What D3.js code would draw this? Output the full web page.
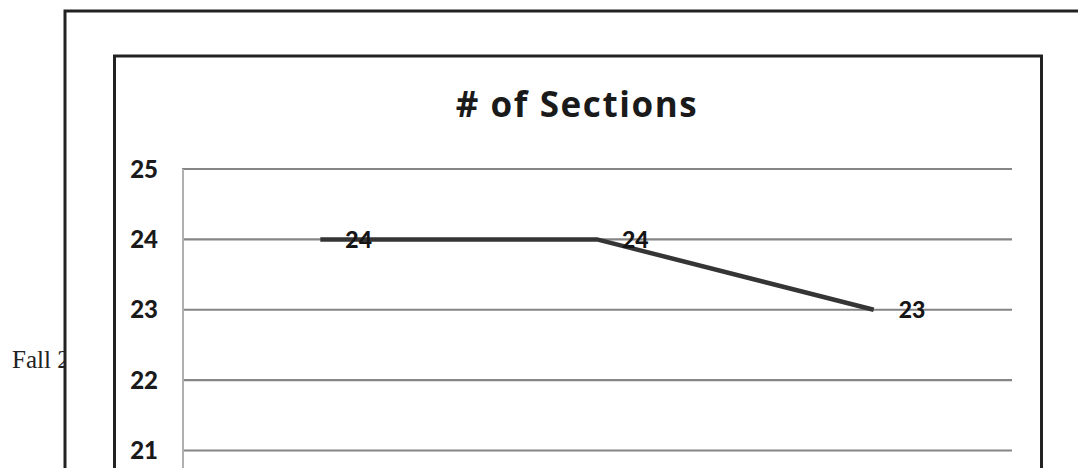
<!DOCTYPE html>
<html>
<head>
<meta charset="utf-8">
<script src="https://d3js.org/d3.v7.min.js"></script>
<style>
	body { margin:0; background:#fff; overflow:hidden; }
	svg { display:block; }
</style>
</head>
<body>
<div id="chart_wrap"></div>
<script>

var categories = ["Fall 1", "Fall 2", "Fall 3"];
var sections = [24, 24, 23];
var yTicks = [25, 24, 23, 22, 21];
var yAxisMin = 20;
var titleText = "# of Sections";
var pageText = "Fall 2";


var SEC = (function(SEC, undefined)
{
	var W = 1078, H = 468;

	SEC.init = function()
	{
		var svg = d3.select("#chart_wrap").append("svg")
		.attr("width", W)
		.attr("height", H);

		// text of the page behind the box, the box covers part of it
		svg.append("text")
		.attr("x", 12)
		.attr("y", 368)
		.attr("font-family", "'Liberation Serif', 'DejaVu Serif', serif")
		.attr("font-size", 25)
		.attr("fill", "#222")
		.text(pageText);

		// outer box
		svg.append("rect")
		.attr("x", 65)
		.attr("y", 11)
		.attr("width", 1100)
		.attr("height", 600)
		.attr("fill", "#fff")
		.attr("stroke", "#222")
		.attr("stroke-width", 3);

		// chart box
		svg.append("rect")
		.attr("x", 114.5)
		.attr("y", 56)
		.attr("width", 927)
		.attr("height", 600)
		.attr("fill", "#fff")
		.attr("stroke", "#222")
		.attr("stroke-width", 3);

		svg.append("text")
		.attr("class", "title")
		.attr("x", 577)
		.attr("y", 117)
		.attr("text-anchor", "middle")
		.attr("font-family", "'Open Sans', Lato, sans-serif")
		.attr("font-weight", "bold")
		.attr("font-size", 35)
		.attr("letter-spacing", "1.6px")
		.attr("fill", "#1a1a1a")
		.text(titleText);

		var x = d3.scalePoint()
		.domain(categories)
		.range([182, 1012])
		.padding(0.5);

		var y = d3.scaleLinear()
		.domain([21, 25])
		.range([450.5, 169]);

		// gridlines
		svg.append("g")
		.attr("class", "yGridLines")
		.selectAll("line")
		.data(yTicks)
		.join("line")
		.attr("x1", 182)
		.attr("x2", 1012)
		.attr("y1", function(d) { return y(d); })
		.attr("y2", function(d) { return y(d); })
		.attr("stroke", "#858585")
		.attr("stroke-width", 2.2);

		// vertical axis line
		svg.append("line")
		.attr("x1", 183)
		.attr("x2", 183)
		.attr("y1", y(25))
		.attr("y2", y(yAxisMin))
		.attr("stroke", "#b0b0b0")
		.attr("stroke-width", 2);

		// y labels
		svg.append("g")
		.attr("class", "yLabels")
		.selectAll("text")
		.data(yTicks)
		.join("text")
		.attr("x", 158)
		.attr("y", function(d) { return y(d); })
		.attr("dy", "0.36em")
		.attr("text-anchor", "end")
		.attr("font-family", "Lato, 'Open Sans', sans-serif")
		.attr("font-weight", "900")
		.attr("font-size", 24)
		.attr("fill", "#1a1a1a")
		.text(function(d) { return d; });

		var line = d3.line()
		.x(function(d, i) { return x(categories[i]); })
		.y(function(d) { return y(d); });

		svg.append("path")
		.attr("class", "mainline")
		.datum(sections)
		.attr("d", line)
		.attr("fill", "none")
		.attr("stroke", "#353535")
		.attr("stroke-width", 4.5);

		// data labels, right of each point
		svg.append("g")
		.attr("class", "dataLabels")
		.selectAll("text")
		.data(sections)
		.join("text")
		.attr("x", function(d, i) { return x(categories[i]) + 25; })
		.attr("y", function(d) { return y(d); })
		.attr("dy", "0.36em")
		.attr("font-family", "Lato, 'Open Sans', sans-serif")
		.attr("font-weight", "900")
		.attr("font-size", 23)
		.attr("fill", "#151515")
		.text(function(d) { return d; });
	}

	return SEC;

}(SEC || {}));

var SEC;
SEC.init();
</script>
</body>
</html>
